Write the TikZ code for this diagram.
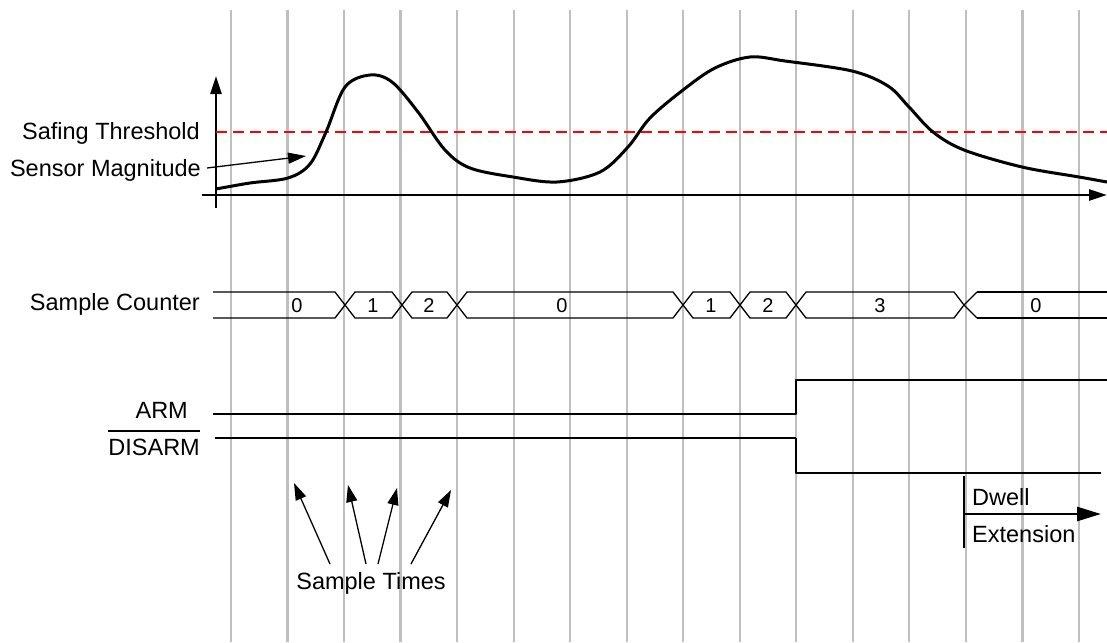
\documentclass[tikz,border=0pt]{standalone}
\usepackage{fontspec}
\setmainfont{Liberation Sans}
\usetikzlibrary{arrows.meta}
\begin{document}
\begin{tikzpicture}[x=1pt, y=-1pt, line join=round, >={Triangle[length=18pt,width=11pt]}]
	\tikzset{every node/.style={inner sep=0pt, font=\fontsize{23.5}{28}\selectfont},
		samplegrid/.style={draw=black!25, line width=2.2pt},
		sig/.style={line width=2.6pt},
		bus/.style={line width=1.3pt},
		digit/.style={font=\fontsize{20}{24}\selectfont}}
	\def \xmin{216}
	\def \xmax{1107}
	\def \ytop{292}
	\def \ymid{305}
	\def \ybot{318}
	\useasboundingbox (0,0) rectangle (1107,642);
	\foreach \i in {0,...,15}
		\draw[samplegrid] ({231+56.53*\i},10) -- ({231+56.53*\i},642);
	% sensor plot
	\draw[sig,->] (\xmin,208) -- (\xmin,76);
	\draw[sig,->] (202,195) -- (\xmax,195);
	\draw[red, line width=2.6pt, dash pattern=on 11pt off 6pt] (\xmin,132) -- (\xmax,132);
	\draw[line width=3pt] plot[smooth, tension=0.55] coordinates {(216,189) (250,183) (288,178) (310,164) (326,132) (345,87) (370,75) (392,82) (418,112) (445,150) (470,168) (513,177) (557,182) (600,172) (628,147) (650,118) (683,90) (715,68) (750,57) (785,61) (852,71) (888,86) (909,107) (933,132) (964,150) (1022,167) (1079,177) (1107,182)};
	\node[anchor=base east] (thr) at (200,139) {Safing Threshold};
	\node[anchor=base east] (mag) at (201,176.5) {Sensor Magnitude};
	\coordinate (magtail) at (207,168);
	\coordinate (magtip) at (306,156);
	\draw[line width=1.3pt,->] (magtail) -- (magtip);
	% sample counter
	\node[anchor=base east] (cntlabel) at (200,310.5) {Sample Counter};
	\draw[bus] (213,\ytop) -- (335,\ytop) -- (345,\ymid) -- (335,\ybot) -- (213,\ybot);
	\node[digit, anchor=base] (cnt0) at (297,312.7) {0};
	\foreach \a/\b/\v/\p [count=\k] in {345/402/1/373, 402/457/2/429, 457/683/0/562, 683/740/1/711, 740/796/2/768, 796/964/3/880}
	{\draw[bus] (\a,\ymid) -- ({\a+10},\ytop) -- ({\b-10},\ytop) -- (\b,\ymid) -- ({\b-10},\ybot) -- ({\a+10},\ybot) -- cycle;
		\node[digit, anchor=base] (cnt\k) at (\p,312.7) {\v};}
	\draw[bus] (977,\ytop) -- (964,\ymid) -- (977,\ybot);
	\draw[line width=2.4pt] (977,\ytop) -- (1107,\ytop) (977,\ybot) -- (1107,\ybot);
	\node[digit, anchor=base] (cnt7) at (1036,312.7) {0};
	% arm / disarm
	\node[anchor=base east] (arm) at (188,418.7) {ARM};
	\node[anchor=base east] (disarm) at (200,455) {DISARM};
	\draw[line width=2pt] ([yshift=7pt]disarm.north west) -- ([yshift=7pt]disarm.north east);
	\draw[sig] (213,414) -- (796,414) -- (796,380) -- (1107,380);
	\draw[line width=1.6pt] (215,438) -- (796,438);
	\draw[sig] (796,438) -- (796,473) -- (1101,473);
	% dwell
	\coordinate (dwellstart) at (964,514);
	\coordinate (dwellend) at (1101,514);
	\draw[sig] (964,476) -- (964,548);
	\draw[sig,-{Triangle[length=24pt,width=14pt]}] (dwellstart) -- (dwellend);
	\node[anchor=base west] (dwell) at (972,505) {Dwell};
	\node[anchor=base west] (ext) at (972,542) {Extension};
	% sample times
	\node[anchor=base] (times) at (371,589) {Sample Times};
	\foreach \t/\h/\y [count=\k] in {330/294/483, 366/348/485, 378/397/488, 411/451/490}
	{\coordinate (tail\k) at (\t,564);
		\coordinate (tip\k) at (\h,\y);
		\draw[line width=1.3pt,->,>={Triangle[length=17pt,width=11pt]}] (tail\k) -- (tip\k);}
\end{tikzpicture}
\end{document}
